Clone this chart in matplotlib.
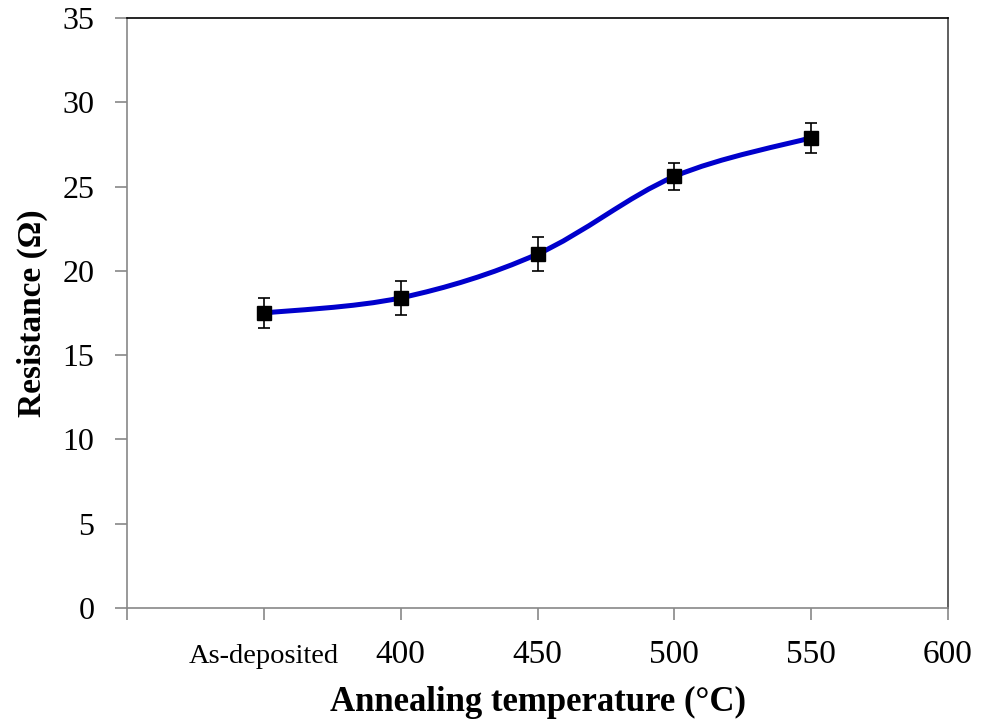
import matplotlib
matplotlib.use("Agg")
import matplotlib.pyplot as plt
from matplotlib.path import Path
from matplotlib.patches import PathPatch
from matplotlib.transforms import ScaledTranslation
import numpy as np

plt.rcParams['font.family'] = ['Liberation Serif', 'DejaVu Serif']

# data
temps = [350, 400, 450, 500, 550]          # 350 stands for "As-deposited"
resistance = [17.5, 18.4, 21.0, 25.6, 27.9]
errors = [0.9, 1.0, 1.0, 0.8, 0.9]
xticks = [300, 350, 400, 450, 500, 550, 600]
xticklabels = ['', 'As-deposited', '400', '450', '500', '550', '600']

fig = plt.figure(figsize=(9.87, 7.24), dpi=100)
ax = fig.add_axes([0.1287, 0.1602, 0.8318, 0.8149])

# smoothed line (Excel-like bezier through the points)
x = np.array(temps, dtype=float)
y = np.array(resistance, dtype=float)
px = np.concatenate([[x[0]], x, [x[-1]]])
py = np.concatenate([[y[0]], y, [y[-1]]])
verts = [(x[0], y[0])]
codes = [Path.MOVETO]
for i in range(1, len(px) - 2):
    c1 = (px[i] + (px[i + 1] - px[i - 1]) / 6, py[i] + (py[i + 1] - py[i - 1]) / 6)
    c2 = (px[i + 1] - (px[i + 2] - px[i]) / 6, py[i + 1] - (py[i + 2] - py[i]) / 6)
    verts += [c1, c2, (px[i + 1], py[i + 1])]
    codes += [Path.CURVE4] * 3
ax.add_patch(PathPatch(Path(verts, codes), facecolor='none', edgecolor='#0000CC', lw=3.6, zorder=2))

ax.errorbar(temps, resistance, yerr=errors, fmt='s', color='black', ms=10,
            ecolor='black', elinewidth=1.2, capsize=4.5, capthick=1.2, zorder=3)

ax.set_xlim(300, 600)
ax.set_ylim(0, 35)
ax.set_xticks(xticks)
ax.set_xticklabels(xticklabels)
ax.set_yticks(range(0, 36, 5))
ax.tick_params(axis='y', labelsize=23, direction='out', length=8.5, color='#888888', width=1.2, pad=15)
ax.tick_params(axis='x', labelsize=24, direction='out', length=8.5, color='#888888', width=1.2, pad=14)
for lbl in ax.get_xticklabels():
    if lbl.get_text() == 'As-deposited':
        lbl.set_fontsize(20.5)
        lbl.set_transform(lbl.get_transform() + ScaledTranslation(0, -5 / 100, fig.dpi_scale_trans))

ax.spines['left'].set_color('#888888')
ax.spines['bottom'].set_color('#888888')
ax.spines['top'].set_color('black')
ax.spines['right'].set_color('#444444')
for s in ax.spines.values():
    s.set_linewidth(1.2)

ax.set_xlabel('Annealing temperature (°C)', fontsize=25, fontweight='bold', labelpad=12)
ax.set_ylabel('Resistance (Ω)', fontsize=24, fontweight='bold', labelpad=10)

fig.savefig('out.png', dpi=100)
